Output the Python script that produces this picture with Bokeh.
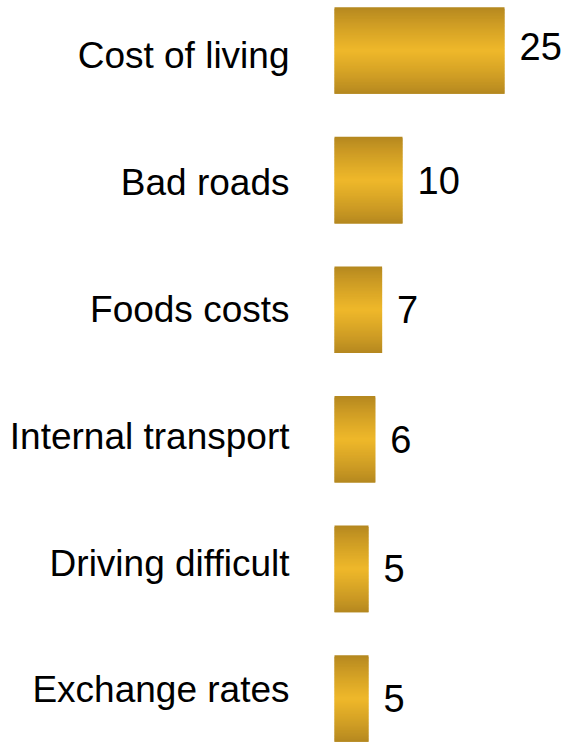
from bokeh.plotting import figure
from bokeh.models import Range1d, ColumnDataSource
from bokeh.embed import file_html
from bokeh.resources import INLINE
from bokeh.core.properties import value

categories = ["Cost of living", "Bad roads", "Foods costs",
              "Internal transport", "Driving difficult", "Exchange rates"]
values = [25, 10, 7, 6, 5, 5]

# layout / style
W, H = 565, 742
BAR_X0 = 334                 # px where bars start
PX_PER_UNIT = 6.8
SPACING = 129.6
FIRST_CENTRE = 50.0          # px from top
BAR_H = 0.668
EDGE = (179, 134, 31)
MID = (239, 184, 42)
N_SLICES = 60

x_start = -BAR_X0 / PX_PER_UNIT
x_end = (W - BAR_X0) / PX_PER_UNIT
y_top = -FIRST_CENTRE / SPACING
y_bot = (H - FIRST_CENTRE) / SPACING

p = figure(width=W, height=H, x_range=Range1d(x_start, x_end),
           y_range=Range1d(y_bot, y_top),
           output_backend="svg", toolbar_location=None,
           x_axis_location=None, y_axis_location=None,
           min_border_left=0, min_border_right=0,
           min_border_top=0, min_border_bottom=0)
p.grid.visible = False
p.outline_line_color = None
p.background_fill_color = "white"
p.border_fill_color = "white"


def grad(t):
    s = 1 - abs(2 * t - 1)
    s = s ** 0.85
    c = [round(e + (m - e) * s) for e, m in zip(EDGE, MID)]
    return "#%02x%02x%02x" % tuple(c)


tops, bottoms, rights, cols = [], [], [], []
step = BAR_H / N_SLICES
for i, v in enumerate(values):
    y0 = i - BAR_H / 2
    for k in range(N_SLICES):
        t = (k + 0.5) / N_SLICES
        b = y0 + k * step
        tp = y0 + min(k + 2, N_SLICES) * step
        bottoms.append(b)
        tops.append(tp)
        rights.append(v)
        cols.append(grad(t))

slices = ColumnDataSource(dict(top=tops, bottom=bottoms, right=rights, color=cols))
p.quad(left=0, right="right", top="top", bottom="bottom",
       fill_color="color", line_color=None, source=slices)

idx = list(range(len(categories)))
lab = ColumnDataSource(dict(
    y=idx, label=categories,
    yoff=[5.3 - 2.8 * i for i in idx],
    voff=[-4 if i == 0 else 0 for i in idx],
    v=values, vs=[str(v) for v in values],
))

p.text(x=0, y="y", text="label", source=lab, x_offset=-45, y_offset="yoff",
       text_align="right", text_baseline="alphabetic",
       text_font=value("Liberation Sans"), text_font_size="37px",
       text_color="#000000")

p.text(x="v", y="y", text="vs", source=lab, x_offset=15, y_offset="voff",
       text_align="left", text_baseline="alphabetic",
       text_font=value("Liberation Sans"), text_font_size="38px",
       text_color="#000000")

open("out.html", "w").write(file_html(p, INLINE))
